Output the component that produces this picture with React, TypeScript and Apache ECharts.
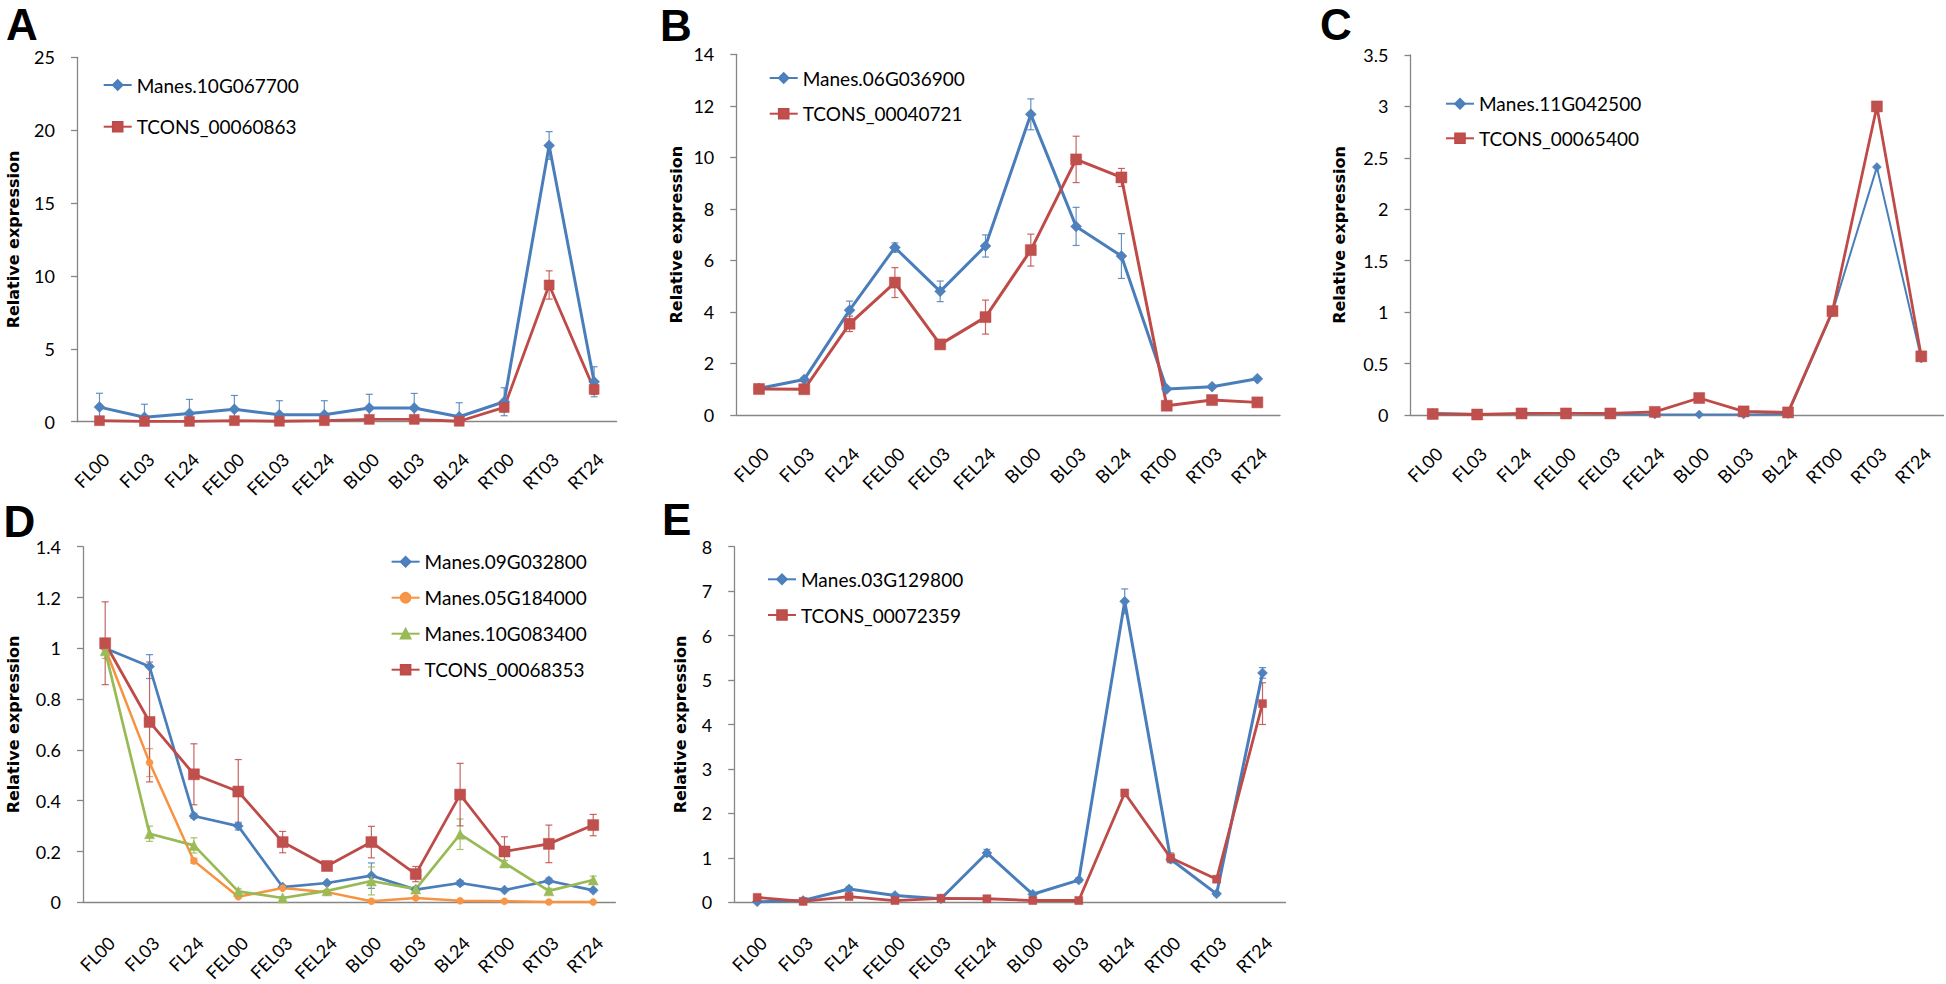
import React, { useEffect, useRef } from 'react';
import * as echarts from 'echarts';

// ---------- data ----------
const categories = ['FL00', 'FL03', 'FL24', 'FEL00', 'FEL03', 'FEL24', 'BL00', 'BL03', 'BL24', 'RT00', 'RT03', 'RT24'];

// Panel A
const aBlueName = 'Manes.10G067700';
const aBlue = [1.0, 0.3, 0.57, 0.85, 0.48, 0.48, 0.94, 0.94, 0.34, 1.37, 18.95, 2.74];
const aBlueErr = [0.95, 0.9, 0.96, 0.95, 0.96, 0.96, 0.94, 1.0, 0.96, 0.96, 0.95, 1.03];
const aRedName = 'TCONS_00060863';
const aRed = [0.07, 0.02, 0.02, 0.07, 0.03, 0.07, 0.16, 0.16, 0.03, 0.98, 9.38, 2.22];
const aRedErr = [0, 0, 0, 0, 0, 0, 0, 0, 0, 0.3, 0.97, 0.35];

// Panel B
const bBlueName = 'Manes.06G036900';
const bBlue = [1.03, 1.38, 4.07, 6.5, 4.8, 6.56, 11.67, 7.32, 6.17, 1.01, 1.1, 1.41];
const bBlueErr = [0.05, 0.05, 0.35, 0.18, 0.4, 0.43, 0.6, 0.74, 0.87, 0.05, 0.05, 0.05];
const bRedName = 'TCONS_00040721';
const bRed = [1.01, 1.0, 3.54, 5.14, 2.74, 3.8, 6.4, 9.92, 9.22, 0.36, 0.58, 0.49];
const bRedErr = [0.05, 0.05, 0.3, 0.58, 0.1, 0.66, 0.62, 0.9, 0.35, 0.05, 0.1, 0.05];

// Panel C
const cBlueName = 'Manes.11G042500';
const cBlue = [0.02, 0.01, 0.01, 0.02, 0.01, 0.005, 0.005, 0.005, 0.01, 1.0, 2.41, 0.55];
const cRedName = 'TCONS_00065400';
const cRed = [0.01, 0.005, 0.015, 0.015, 0.015, 0.03, 0.165, 0.035, 0.025, 1.01, 3.0, 0.57];

// Panel D
const dBlueName = 'Manes.09G032800';
const dBlue = [1.0, 0.928, 0.34, 0.3, 0.06, 0.076, 0.105, 0.05, 0.076, 0.048, 0.085, 0.047];
const dBlueErr = [0, 0.047, 0.01, 0.015, 0.005, 0.005, 0.05, 0.005, 0.01, 0.005, 0.01, 0.005];
const dOrangeName = 'Manes.05G184000';
const dOrange = [1.0, 0.55, 0.163, 0.022, 0.056, 0.04, 0.004, 0.017, 0.006, 0.004, 0.001, 0.001];
const dOrangeErr = [0, 0.055, 0.01, 0.005, 0.005, 0, 0, 0, 0, 0, 0, 0];
const dGreenName = 'Manes.10G083400';
const dGreen = [0.99, 0.27, 0.224, 0.043, 0.017, 0.045, 0.084, 0.052, 0.268, 0.155, 0.045, 0.088];
const dGreenErr = [0.03, 0.03, 0.03, 0.01, 0.005, 0.005, 0.055, 0.01, 0.06, 0.01, 0.01, 0.015];
const dRedName = 'TCONS_00068353';
const dRed = [1.02, 0.71, 0.504, 0.436, 0.237, 0.143, 0.237, 0.111, 0.424, 0.2, 0.23, 0.304];
const dRedErr = [0.163, 0.236, 0.12, 0.126, 0.042, 0.01, 0.062, 0.03, 0.123, 0.058, 0.074, 0.042];

// Panel E
const eBlueName = 'Manes.03G129800';
const eBlue = [0.01, 0.04, 0.3, 0.155, 0.08, 1.11, 0.18, 0.5, 6.77, 0.97, 0.19, 5.16];
const eBlueErr = [0.02, 0.02, 0.05, 0.03, 0.02, 0.08, 0.04, 0.05, 0.28, 0.06, 0.04, 0.12];
const eRedName = 'TCONS_00072359';
const eRed = [0.11, 0.02, 0.13, 0.04, 0.09, 0.08, 0.04, 0.04, 2.46, 1.0, 0.52, 4.47];
const eRedErr = [0.03, 0.01, 0.02, 0.01, 0.01, 0.01, 0.01, 0.01, 0.06, 0.11, 0.05, 0.47];

const yMaxes = [25, 14, 3.5, 1.4, 8];
const yIntervals = [5, 2, 0.5, 0.2, 1];
const panelLetters = ['A', 'B', 'C', 'D', 'E'];
const yTitle = 'Relative expression';

// ---------- styles ----------
const BLUE = { line: '#4A7EBB', fill: '#4F81BD' };
const RED = { line: '#BE4B48', fill: '#C0504D' };
const GREEN = { line: '#98B954', fill: '#9BBB59' };
const ORANGE = { line: '#F69240', fill: '#F79646' };

type SeriesDef = { name: string; values: number[]; errors: number[] | null; col: { line: string; fill: string }; symbol: string; size: number; lw: number };

const panelSeries: SeriesDef[][] = [
  [
    { name: aBlueName, values: aBlue, errors: aBlueErr, col: BLUE, symbol: 'diamond', size: 11, lw: 3 },
    { name: aRedName, values: aRed, errors: aRedErr, col: RED, symbol: 'rect', size: 10, lw: 2.8 },
  ],
  [
    { name: bBlueName, values: bBlue, errors: bBlueErr, col: BLUE, symbol: 'diamond', size: 11, lw: 3 },
    { name: bRedName, values: bRed, errors: bRedErr, col: RED, symbol: 'rect', size: 11, lw: 3 },
  ],
  [
    { name: cBlueName, values: cBlue, errors: null, col: BLUE, symbol: 'diamond', size: 9, lw: 2 },
    { name: cRedName, values: cRed, errors: null, col: RED, symbol: 'rect', size: 11, lw: 2.8 },
  ],
  [
    { name: dBlueName, values: dBlue, errors: dBlueErr, col: BLUE, symbol: 'diamond', size: 10, lw: 2.7 },
    { name: dOrangeName, values: dOrange, errors: dOrangeErr, col: ORANGE, symbol: 'circle', size: 7, lw: 2.5 },
    { name: dGreenName, values: dGreen, errors: dGreenErr, col: GREEN, symbol: 'triangle', size: 10, lw: 2.7 },
    { name: dRedName, values: dRed, errors: dRedErr, col: RED, symbol: 'rect', size: 11, lw: 2.8 },
  ],
  [
    { name: eBlueName, values: eBlue, errors: eBlueErr, col: BLUE, symbol: 'diamond', size: 10, lw: 3 },
    { name: eRedName, values: eRed, errors: eRedErr, col: RED, symbol: 'rect', size: 8, lw: 2.8 },
  ],
];

const layout = [
  { grid: { left: 77, top: 57.3, width: 539.6, height: 364.4 }, nameGap: 56, legend: { left: 102.7, top: 75, gap: 21.7 }, letter: [6, 24], labelMargin: 28 },
  { grid: { left: 736.3, top: 54.3, width: 543.7, height: 360.7 }, nameGap: 52, legend: { left: 768.7, top: 68, gap: 15.7 }, letter: [660, 25], labelMargin: 29 },
  { grid: { left: 1410.5, top: 55, width: 533, height: 360 }, nameGap: 63, legend: { left: 1445, top: 93.7, gap: 14.6 }, letter: [1320, 24], labelMargin: 29 },
  { grid: { left: 83, top: 546.7, width: 532.4, height: 361 }, nameGap: 62, legend: { left: 390.6, top: 551.7, gap: 16 }, letter: [3.5, 521], labelMargin: 31 },
  { grid: { left: 734.2, top: 546.7, width: 551.3, height: 361 }, nameGap: 46, legend: { left: 767, top: 569.3, gap: 15.7 }, letter: [662, 519], labelMargin: 31 },
];

const AXIS_COLOR = '#868686';

function makeErrorRender(color: string) {
  return (params: any, api: any) => {
    const e = api.value(2);
    if (!e) return null;
    const x = api.value(0);
    const v = api.value(1);
    const lo = Math.max(0, v - e);
    const top = api.coord([x, v + e]);
    const bot = api.coord([x, lo]);
    const cw = 3.5;
    const style = { stroke: color, lineWidth: 1.2, opacity: 0.85 };
    const children: any[] = [
      { type: 'line', shape: { x1: top[0], y1: top[1], x2: bot[0], y2: bot[1] }, style },
      { type: 'line', shape: { x1: top[0] - cw, y1: top[1], x2: top[0] + cw, y2: top[1] }, style },
    ];
    if (v - e > 0) {
      children.push({ type: 'line', shape: { x1: bot[0] - cw, y1: bot[1], x2: bot[0] + cw, y2: bot[1] }, style });
    }
    return { type: 'group', children };
  };
}

function buildOption() {
  const grid = layout.map((l) => ({ ...l.grid, containLabel: false }));
  const xAxis = layout.map((l, i) => ({
    type: 'category',
    gridIndex: i,
    data: categories,
    boundaryGap: true,
    axisLine: { show: true, lineStyle: { color: AXIS_COLOR, width: 1.3 } },
    axisTick: { show: false },
    axisLabel: {
      interval: 0,
      rotate: 45,
      margin: l.labelMargin,
      verticalAlign: 'top',
      fontFamily: 'Lato',
      fontSize: 18,
      color: '#000',
    },
    splitLine: { show: false },
  }));
  const yAxis = layout.map((l, i) => ({
    type: 'value',
    gridIndex: i,
    min: 0,
    max: yMaxes[i],
    interval: yIntervals[i],
    name: yTitle,
    nameLocation: 'middle',
    nameGap: l.nameGap,
    nameTextStyle: { fontFamily: 'DejaVu Sans', fontWeight: 'bold', fontSize: 16, color: '#000' },
    axisLine: { show: true, lineStyle: { color: AXIS_COLOR, width: 1.3 } },
    axisTick: { show: true, inside: false, length: 6, lineStyle: { color: AXIS_COLOR, width: 1.3 } },
    axisLabel: { margin: 22, fontFamily: 'Lato', fontSize: 18, color: '#000' },
    splitLine: { show: false },
  }));
  const legend = layout.map((l, i) => ({
    data: panelSeries[i].map((s) => s.name),
    orient: 'vertical',
    left: l.legend.left,
    top: l.legend.top,
    itemGap: l.legend.gap,
    itemWidth: 28,
    itemHeight: 12,
    padding: 0,
    selectedMode: false,
    textStyle: { fontFamily: 'Lato', fontSize: 19, color: '#000', lineHeight: 20 },
  }));
  const series: any[] = [];
  panelSeries.forEach((list, i) => {
    list.forEach((s) => {
      if (s.errors) {
        series.push({
          type: 'custom',
          name: s.name + ' error',
          xAxisIndex: i,
          yAxisIndex: i,
          data: s.values.map((v, j) => [j, v, s.errors ? s.errors[j] : 0]),
          encode: { x: 0, y: 1 },
          renderItem: makeErrorRender(s.col.line),
          z: 2,
          silent: true,
        });
      }
    });
    list.forEach((s) => {
      series.push({
        type: 'line',
        name: s.name,
        xAxisIndex: i,
        yAxisIndex: i,
        data: s.values,
        symbol: s.symbol,
        symbolSize: s.size,
        showSymbol: true,
        showAllSymbol: true,
        lineStyle: { color: s.col.line, width: s.lw },
        itemStyle: { color: s.col.fill, borderColor: s.col.line, borderWidth: 0.5 },
        z: 3,
        silent: true,
      });
    });
  });
  const graphic = layout.map((l, i) => ({
    type: 'text',
    x: l.letter[0],
    y: l.letter[1],
    style: {
      text: panelLetters[i],
      fontFamily: 'Liberation Sans',
      fontWeight: 'bold',
      fontSize: 44,
      fill: '#000',
      verticalAlign: 'middle',
      align: 'left',
    },
  }));
  return {
    animation: false,
    backgroundColor: '#ffffff',
    grid,
    xAxis,
    yAxis,
    legend,
    series,
    graphic,
  };
}

export default function App() {
  const ref = useRef<HTMLDivElement>(null);
  useEffect(() => {
    if (!ref.current) return;
    const chart = echarts.init(ref.current, undefined, { renderer: 'svg' });
    chart.setOption(buildOption() as any);
    return () => chart.dispose();
  }, []);
  return (
    <div
      ref={ref}
      style={{ position: 'absolute', left: 0, top: 0, width: 1946, height: 984, background: '#fff' }}
    />
  );
}
